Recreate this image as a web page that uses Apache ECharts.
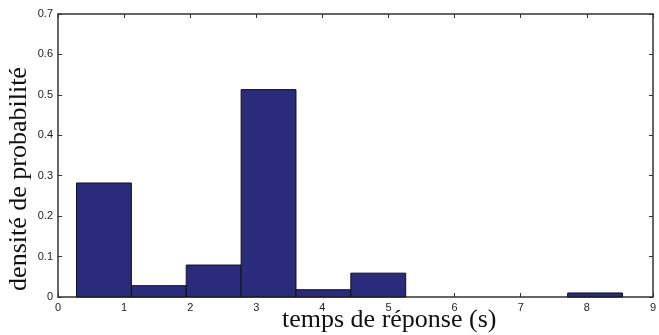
<!DOCTYPE html>
<html>
<head>
<meta charset="utf-8">
<script src="https://cdn.jsdelivr.net/npm/echarts@6/dist/echarts.min.js"></script>
<style>
  html, body { margin: 0; padding: 0; background: #fff; }
  #chart { width: 659px; height: 335px; }
</style>
</head>
<body>
<div id="chart"></div>
<script>
// histogram bins (s) and densities
const binEdges = [0.28, 1.11, 1.94, 2.77, 3.6, 4.43, 5.26, 6.09, 6.92, 7.71, 8.54];
const densities = [0.282, 0.028, 0.079, 0.513, 0.018, 0.059, 0, 0, 0, 0.01];
const xTicks = [0, 1, 2, 3, 4, 5, 6, 7, 8, 9];
const yTicks = [0, 0.1, 0.2, 0.3, 0.4, 0.5, 0.6, 0.7];

const AXIS = "#333";
const BAR = "#2b2b7c";

const bins = densities.map((d, i) => [binEdges[i], binEdges[i + 1], d]);

const chart = echarts.init(document.getElementById("chart"));

const tickFont = { color: "#222", fontSize: 11, fontFamily: "Liberation Sans, Arial, sans-serif" };
const TITLE_FONT = "26px 'Liberation Serif', 'Times New Roman', serif";

function boxAxis(position, labels) {
  return {
    type: "value",
    position,
    axisLine: { show: true, onZero: false, lineStyle: { color: AXIS, width: 1.5 } },
    axisTick: { show: true, inside: true, length: 4, lineStyle: { color: AXIS } },
    axisLabel: labels ? labels : { show: false },
    splitLine: { show: false },
  };
}

chart.setOption({
  animation: false,
  grid: { left: 58, right: 1, top: 14, bottom: 38 },
  xAxis: [
    {
      ...boxAxis("bottom", { ...tickFont, margin: 5, formatter: (v) => String(v) }),
      min: xTicks[0], max: xTicks[xTicks.length - 1], interval: 1,
    },
    { ...boxAxis("top"), min: xTicks[0], max: xTicks[xTicks.length - 1], interval: 1 },
  ],
  yAxis: [
    {
      ...boxAxis("left", { ...tickFont, margin: 5, formatter: (v) => (v === 0 ? "0" : v.toFixed(1)) }),
      min: yTicks[0], max: yTicks[yTicks.length - 1], interval: 0.1,
    },
    { ...boxAxis("right"), min: yTicks[0], max: yTicks[yTicks.length - 1], interval: 0.1 },
  ],
  graphic: [
    {
      type: "text", x: 282, y: 320,
      style: { text: "temps de réponse (s)", font: TITLE_FONT, fill: "#111", verticalAlign: "middle" },
    },
    {
      type: "text", x: 19, y: 179, rotation: Math.PI / 2,
      style: {
        text: "densité de probabilité", font: TITLE_FONT,
        fill: "#111", align: "center", verticalAlign: "middle",
      },
    },
  ],
  series: [
    {
      type: "custom",
      data: bins,
      encode: { x: [0, 1], y: 2 },
      renderItem: (params, api) => {
        const h = api.value(2);
        if (h <= 0) return null;
        const p0 = api.coord([api.value(0), h]);
        const p1 = api.coord([api.value(1), 0]);
        return {
          type: "rect",
          shape: { x: p0[0], y: p0[1], width: p1[0] - p0[0], height: p1[1] - p0[1] },
          style: { fill: BAR, stroke: "#111", lineWidth: 1 },
        };
      },
    },
  ],
});
</script>
</body>
</html>
